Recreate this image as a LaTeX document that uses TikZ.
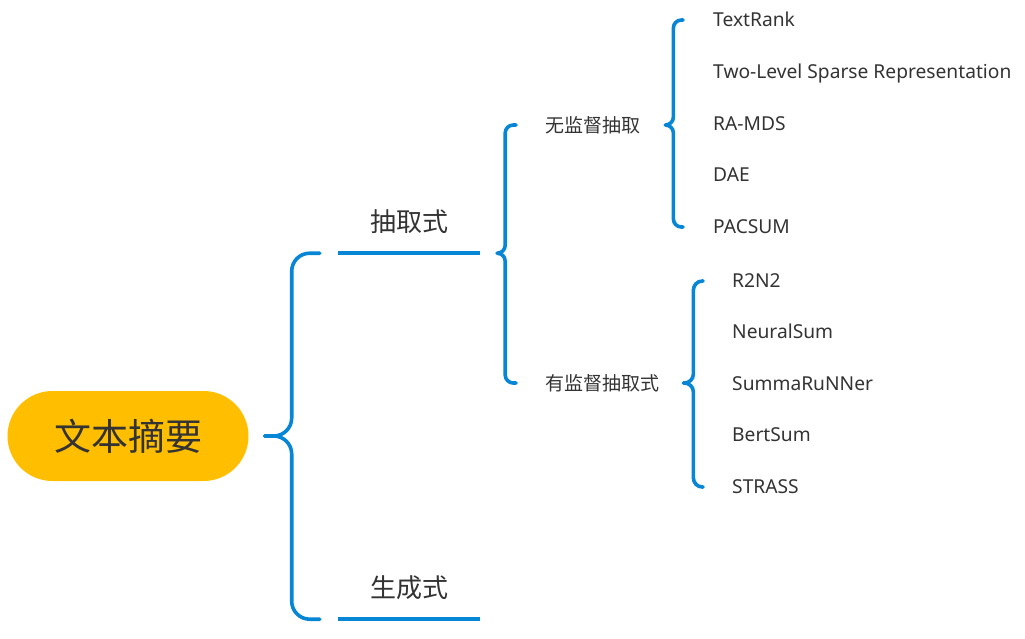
\documentclass[tikz,border=0pt]{standalone}
\usepackage{fontspec}
\setmainfont{Noto Sans}
\newfontfamily\cjk{Noto Sans CJK SC}
\usetikzlibrary{positioning,calc}
\definecolor{mapblue}{RGB}{8,134,214}
\definecolor{mapgold}{RGB}{255,190,0}
\definecolor{mapgray}{RGB}{51,51,51}

\begin{document}
\begin{tikzpicture}[x=1pt,y=-1pt,
	every node/.style={inner sep=0pt, text=mapgray},
	brace/.style={draw=mapblue, line width=3.6pt, line cap=round, line join=round},
	underline/.style={draw=mapblue, line width=3.6pt},
	rootbox/.style={fill=mapgold, rounded corners=45pt, minimum width=241pt, minimum height=90pt, font=\cjk\fontsize{37}{44}\selectfont},
	bigcat/.style={minimum width=142pt, text depth=22pt, anchor=base, font=\cjk\fontsize{26}{31}\selectfont},
	subcat/.style={anchor=west, text height=15pt, text depth=1pt, font=\cjk\fontsize{19}{23}\selectfont},
	leaf/.style={anchor=west, text height=13.6pt, text depth=0pt, font=\fontsize{19.2}{23}\selectfont}]
			\useasboundingbox (0,0) rectangle (1025,638);
			% nodes
			\node[rootbox] (root) at (128,436) {文本摘要};
			\node[bigcat] (ext) at (409,231) {抽取式};
			\node[bigcat] (gen) at (409,597) {生成式};
			\node[subcat] (unsup) at (545,125) {无监督抽取};
			\node[subcat] (sup) at (545,383) {有监督抽取式};
			\foreach \name/\txt/\y in {t1/TextRank/20, t2/Two-Level Sparse Representation/72, t3/RA-MDS/124, t4/DAE/175, t5/PACSUM/227}
				\node[leaf] (\name) at (713,\y) {\txt};
			\foreach \name/\txt/\y in {s1/R2N2/281, s2/NeuralSum/332, s3/SummaRuNNer/384, s4/BertSum/435, s5/STRASS/487}
				\node[leaf] (\name) at (732,\y) {\txt};
			% underlines
			\draw[underline] (ext.south west) -- (ext.south east);
			\draw[underline] (gen.south west) -- (gen.south east);
			% braces
			\draw[brace, rounded corners=18pt] ([xshift=-18pt]ext.south west) -| ([xshift=43pt]root.east) -- ([xshift=16pt]root.east);
			\draw[brace, rounded corners=18pt] ([xshift=-18pt]gen.south west) -| ([xshift=43pt]root.east) -- ([xshift=16pt]root.east);
			\draw[brace, rounded corners=8pt] ([xshift=-29pt]unsup.west) -| ([xshift=25pt]ext.south east) -- ([xshift=17pt]ext.south east);
			\draw[brace, rounded corners=8pt] ([xshift=-29pt]sup.west) -| ([xshift=25pt]ext.south east) -- ([xshift=17pt]ext.south east);
			\draw[brace, rounded corners=8pt] ([xshift=-30pt]t1.west) -| ([xshift=33pt]unsup.east) -- ([xshift=25pt]unsup.east);
			\draw[brace, rounded corners=8pt] ([xshift=-30pt]t5.west) -| ([xshift=33pt]unsup.east) -- ([xshift=25pt]unsup.east);
			\draw[brace, rounded corners=9pt] ([xshift=-29pt]s1.west) -| ([xshift=34pt]sup.east) -- ([xshift=24pt]sup.east);
			\draw[brace, rounded corners=9pt] ([xshift=-29pt]s5.west) -| ([xshift=34pt]sup.east) -- ([xshift=24pt]sup.east);
\end{tikzpicture}
\end{document}
